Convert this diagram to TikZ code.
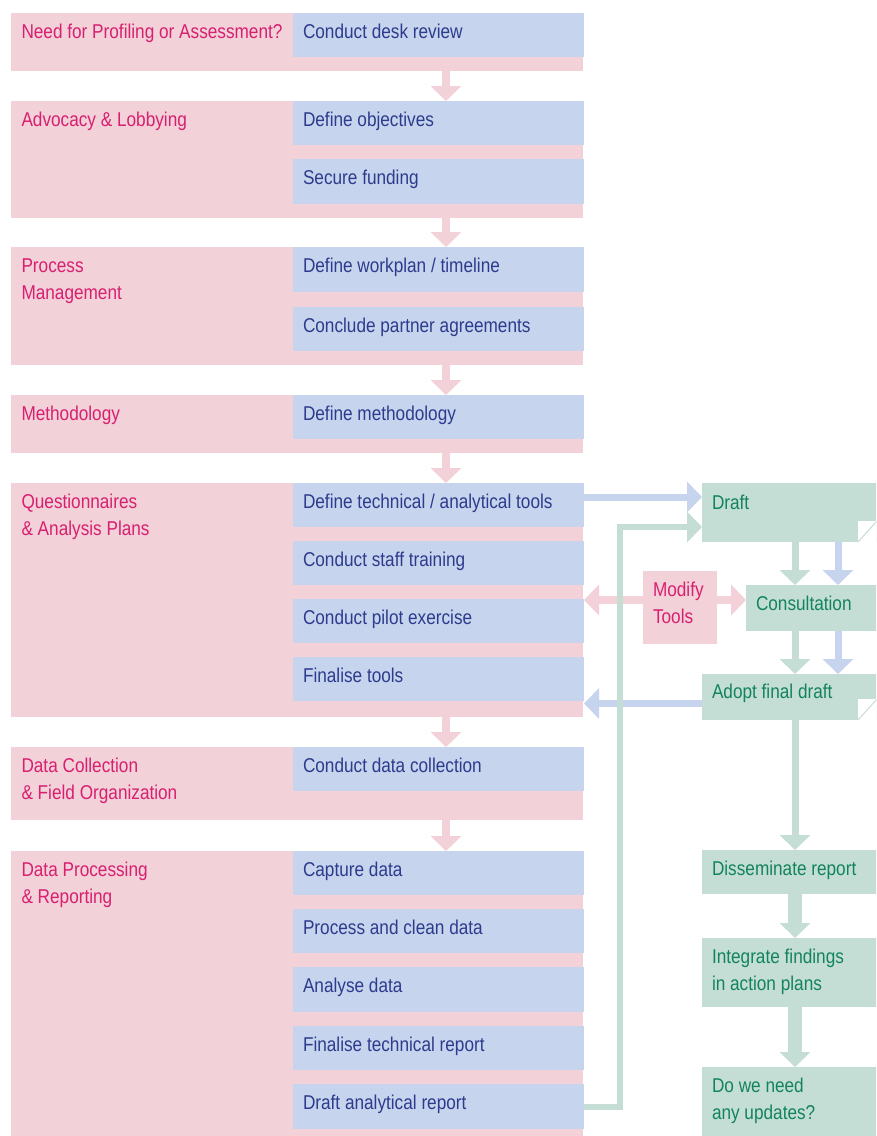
\documentclass[tikz,border=0pt]{standalone}
\usepackage{fontspec}
\setmainfont{Liberation Sans}[FakeStretch=0.86]
\usetikzlibrary{arrows.meta,calc}

\definecolor{pinkfill}{HTML}{F2D1D8}
\definecolor{bluefill}{HTML}{C6D4ED}
\definecolor{greenfill}{HTML}{C5DED5}
\definecolor{pinkink}{HTML}{D81F70}
\definecolor{blueink}{HTML}{2D3B8E}
\definecolor{greenink}{HTML}{12845C}

% two stacked lines of a label, first baseline is the node's base
\newcommand\twoline[2]{\begin{tabular}[t]{@{}l@{}}#1\\#2\end{tabular}}

\tikzset{
  sz/.style 2 args={anchor=north west, inner sep=0pt, outer sep=0pt,
    minimum width=#1*0.75pt, minimum height=#2*0.75pt},
  grp/.style={fill=pinkfill},
  stepbox/.style={fill=bluefill},
  outbox/.style={fill=greenfill},
  modbox/.style={fill=pinkfill},
  lbl/.style={anchor=base west, inner sep=0pt, outer sep=0pt,
    font=\fontsize{15pt}{20.25pt}\selectfont},
  plbl/.style={lbl, text=pinkink},
  blbl/.style={lbl, text=blueink},
  glbl/.style={lbl, text=greenink},
  tip/.style={Triangle[width=22.5pt,length=11.25pt]},
  pinkarrow/.style={draw=pinkfill, line width=6pt, -{Triangle[width=22.5pt,length=11.25pt]}},
  pinkdouble/.style={draw=pinkfill, line width=6pt,
    {Triangle[width=22.5pt,length=11.25pt]}-{Triangle[width=22.5pt,length=11.25pt]}},
  bluearrow/.style={draw=bluefill, line width=5.25pt, -{Triangle[width=22.5pt,length=11.25pt]}},
  greenarrow/.style={draw=greenfill, line width=5.25pt, -{Triangle[width=22.5pt,length=11.25pt]}},
  widegreen/.style={draw=greenfill, line width=10pt, -{Triangle[width=22.5pt,length=11.25pt]}},
  feedback/.style={draw=greenfill, line width=4.5pt, line join=miter,
    -{Triangle[width=22.5pt,length=11.25pt]}},
  fold/.style={draw=greenfill, line width=0.75pt},
}

\begin{document}
\begin{tikzpicture}[x=0.75pt, y=-0.75pt]
\useasboundingbox (0,0) rectangle (876,1136);
\fill[white] (0,0) rectangle (876,1136);
\clip (0,0) rectangle (876,1136);

% ---- phase bands ----
\node[sz={572}{58},  grp] (g1) at (11,13)  {};
\node[sz={572}{117}, grp] (g2) at (11,101) {};
\node[sz={572}{118}, grp] (g3) at (11,247) {};
\node[sz={572}{58},  grp] (g4) at (11,395) {};
\node[sz={572}{234}, grp] (g5) at (11,483) {};
\node[sz={572}{73},  grp] (g6) at (11,747) {};
\node[sz={572}{300}, grp] (g7) at (11,851) {};

\node[plbl] (g1t) at ([shift={(10.5,25.5)}]g1.north west) {Need for Profiling or Assessment?};
\node[plbl] (g2t) at ([shift={(10.5,25.5)}]g2.north west) {Advocacy \& Lobbying};
\node[plbl] (g3t) at ([shift={(10.5,25.5)}]g3.north west) {\twoline{Process}{Management}};
\node[plbl] (g4t) at ([shift={(10.5,25.5)}]g4.north west) {Methodology};
\node[plbl] (g5t) at ([shift={(10.5,25.5)}]g5.north west) {\twoline{Questionnaires}{\& Analysis Plans}};
\node[plbl] (g6t) at ([shift={(10.5,25.5)}]g6.north west) {\twoline{Data Collection}{\& Field Organization}};
\node[plbl] (g7t) at ([shift={(10.5,25.5)}]g7.north west) {\twoline{Data Processing}{\& Reporting}};

% ---- steps ----
\node[sz={291}{44}, stepbox] (b1)  at (293,13)   {};
\node[sz={291}{44}, stepbox] (b2a) at (293,101)  {};
\node[sz={291}{45}, stepbox] (b2b) at (293,159)  {};
\node[sz={291}{45}, stepbox] (b3a) at (293,247)  {};
\node[sz={291}{44}, stepbox] (b3b) at (293,307)  {};
\node[sz={291}{44}, stepbox] (b4)  at (293,395)  {};
\node[sz={291}{44}, stepbox] (b5a) at (293,483)  {};
\node[sz={291}{44}, stepbox] (b5b) at (293,541)  {};
\node[sz={291}{44}, stepbox] (b5c) at (293,599)  {};
\node[sz={291}{44}, stepbox] (b5d) at (293,657)  {};
\node[sz={291}{44}, stepbox] (b6)  at (293,747)  {};
\node[sz={291}{44}, stepbox] (b7a) at (293,851)  {};
\node[sz={291}{44}, stepbox] (b7b) at (293,909)  {};
\node[sz={291}{45}, stepbox] (b7c) at (293,967)  {};
\node[sz={291}{44}, stepbox] (b7d) at (293,1026) {};
\node[sz={291}{45}, stepbox] (b7e) at (293,1084) {};

\node[blbl] (b1t)  at ([shift={(10,25.5)}]b1.north west)  {Conduct desk review};
\node[blbl] (b2at) at ([shift={(10,25.5)}]b2a.north west) {Define objectives};
\node[blbl] (b2bt) at ([shift={(10,25.5)}]b2b.north west) {Secure funding};
\node[blbl] (b3at) at ([shift={(10,25.5)}]b3a.north west) {Define workplan / timeline};
\node[blbl] (b3bt) at ([shift={(10,25.5)}]b3b.north west) {Conclude partner agreements};
\node[blbl] (b4t)  at ([shift={(10,25.5)}]b4.north west)  {Define methodology};
\node[blbl] (b5at) at ([shift={(10,25.5)}]b5a.north west) {Define technical / analytical tools};
\node[blbl] (b5bt) at ([shift={(10,25.5)}]b5b.north west) {Conduct staff training};
\node[blbl] (b5ct) at ([shift={(10,25.5)}]b5c.north west) {Conduct pilot exercise};
\node[blbl] (b5dt) at ([shift={(10,25.5)}]b5d.north west) {Finalise tools};
\node[blbl] (b6t)  at ([shift={(10,25.5)}]b6.north west)  {Conduct data collection};
\node[blbl] (b7at) at ([shift={(10,25.5)}]b7a.north west) {Capture data};
\node[blbl] (b7bt) at ([shift={(10,25.5)}]b7b.north west) {Process and clean data};
\node[blbl] (b7ct) at ([shift={(10,25.5)}]b7c.north west) {Analyse data};
\node[blbl] (b7dt) at ([shift={(10,25.5)}]b7d.north west) {Finalise technical report};
\node[blbl] (b7et) at ([shift={(10,25.5)}]b7e.north west) {Draft analytical report};

% ---- tool development and reporting outputs ----
\node[sz={175}{59}, outbox] (draft)   at (702,483)  {};
\node[sz={131}{46}, outbox] (consult) at (746,585)  {};
\node[sz={175}{46}, outbox] (adopt)   at (702,674)  {};
\node[sz={175}{44}, outbox] (dissem)  at (702,850)  {};
\node[sz={175}{69}, outbox] (integr)  at (702,938)  {};
\node[sz={175}{80}, outbox] (update)  at (702,1067) {};

% folded corners
\foreach \n in {draft,adopt}{
  \fill[white] (\n.south east) rectangle ($(\n.south east)+(-19,-21)$);
  \draw[fold] ($(\n.south east)+(-19,0)$) -- ($(\n.south east)+(0,-21)$);
}

\node[glbl] (draftt)   at ([shift={(10,26)}]draft.north west)   {Draft};
\node[glbl] (consultt) at ([shift={(10,25)}]consult.north west) {Consultation};
\node[glbl] (adoptt)   at ([shift={(10,24.5)}]adopt.north west) {Adopt final draft};
\node[glbl] (dissemt)  at ([shift={(10,25)}]dissem.north west)  {Disseminate report};
\node[glbl] (integrt)  at ([shift={(10,25)}]integr.north west)  {\twoline{Integrate findings}{in action plans}};
\node[glbl] (updatet)  at ([shift={(10,25)}]update.north west)  {\twoline{Do we need}{any updates?}};

% ---- connector columns and rows ----
\coordinate (pinkcol) at (446,0);
\coordinate (gcol)    at (795,0);
\coordinate (bcol)    at (838,0);
\coordinate (loopcol) at (620,0);
\coordinate (toDraft) at ($(b5a.east)+(0,-8)$);
\coordinate (fbY)     at ($(draft.west)+(0,14.5)$);
\coordinate (backY)   at ($(adopt.west)+(0,6.5)$);
\coordinate (modY)    at (0,600);

% phase to phase
\foreach \a/\b in {g1/g2,g2/g3,g3/g4,g4/g5,g5/g6,g6/g7}
  \draw[pinkarrow] (pinkcol |- \a.south) -- (pinkcol |- \b.north);

% modify tools: back to the pilot and on to consultation
\draw[pinkdouble] (b5c.east |- modY) -- (consult.west |- modY);
\node[sz={74}{73}, modbox] (modify) at (643,571) {};
\node[plbl] (modifyt) at ([shift={(10,25)}]modify.north west) {\twoline{Modify}{Tools}};

% tools to draft, draft through consultation to adoption
\draw[bluearrow] (toDraft) -- (draft.west |- toDraft);
\draw[greenarrow] (gcol |- draft.south) -- (gcol |- consult.north);
\draw[bluearrow]  (bcol |- draft.south) -- (bcol |- consult.north);
\draw[greenarrow] (gcol |- consult.south) -- (gcol |- adopt.north);
\draw[bluearrow]  (bcol |- consult.south) -- (bcol |- adopt.north);
\draw[bluearrow] (adopt.west |- backY) -- (b5d.east |- backY);

% analytical report feeds back into the draft
\draw[feedback] (b7e.east) -- (loopcol |- b7e.east) -- (loopcol |- fbY) -- (draft.west |- fbY);

% reporting chain
\draw[greenarrow] (gcol |- adopt.south)  -- (gcol |- dissem.north);
\draw[widegreen]  (gcol |- dissem.south) -- (gcol |- integr.north);
\draw[widegreen]  (gcol |- integr.south) -- (gcol |- update.north);
\end{tikzpicture}
\end{document}
